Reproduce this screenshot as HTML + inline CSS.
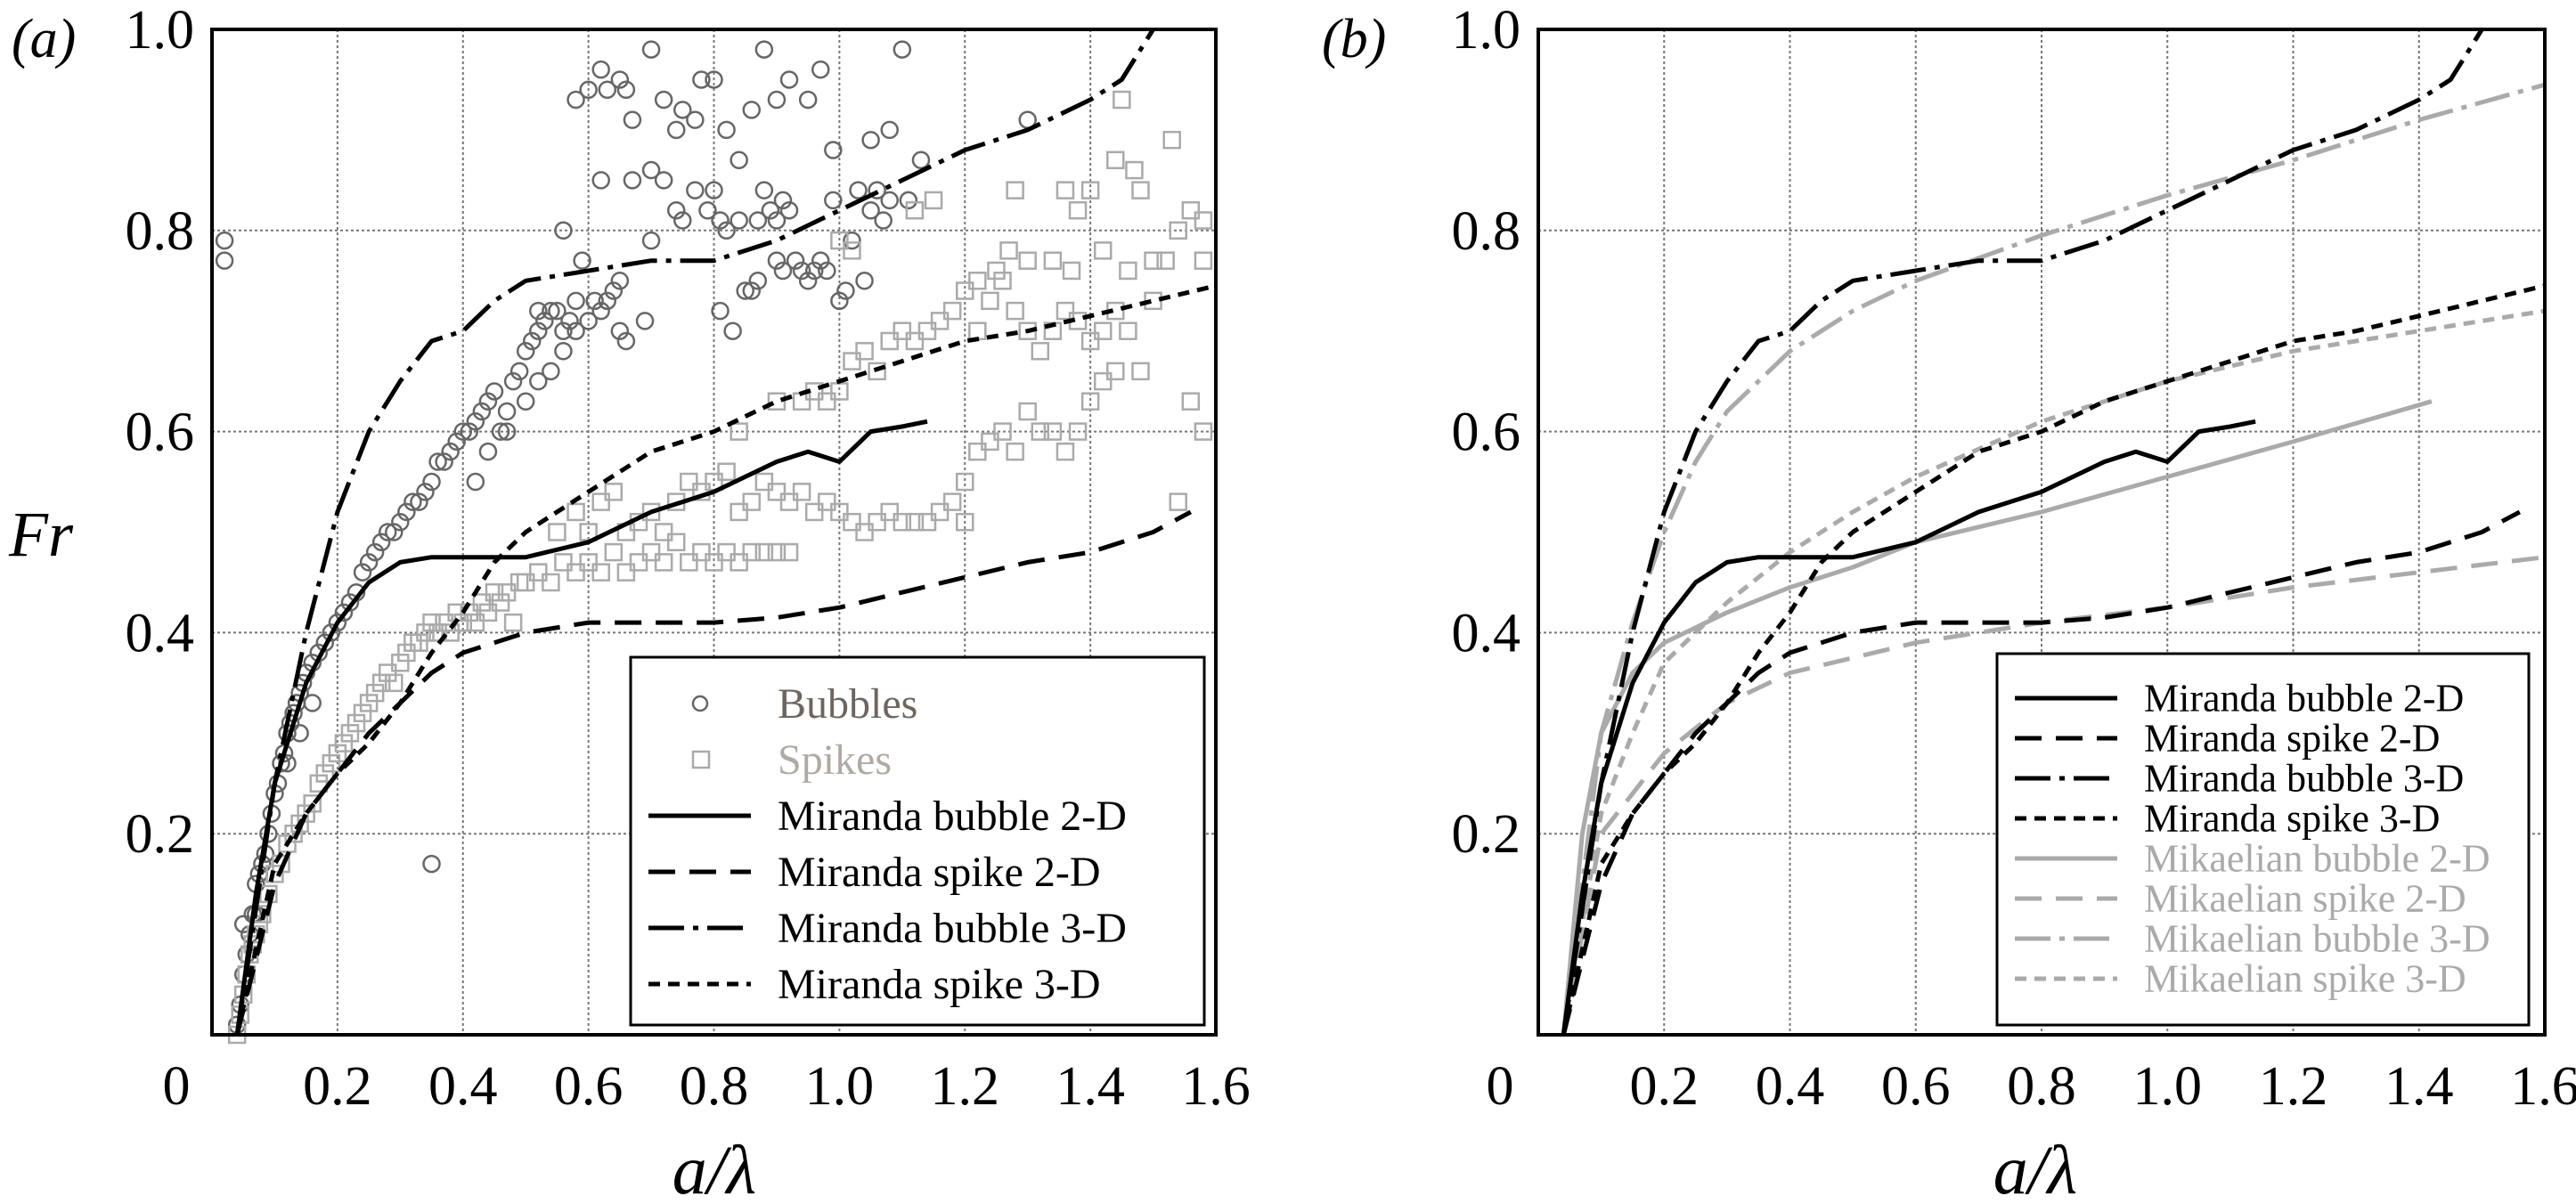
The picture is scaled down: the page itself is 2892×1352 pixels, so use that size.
<!DOCTYPE html>
<html><head><meta charset="utf-8"><style>
html,body{margin:0;padding:0;background:#fff;overflow:hidden;}
svg{display:block;}
svg text{font-family:"Liberation Serif",serif;}
</style></head><body>
<svg id="chart" width="2892" height="1352" viewBox="0 0 2892 1352" xmlns="http://www.w3.org/2000/svg">
<g id="pa"></g>
<g id="pb"></g>
</svg>
<script>
const xTicks=[0.2,0.4,0.6,0.8,1.0,1.2,1.4,1.6];
const xTickLabels=["0.2","0.4","0.6","0.8","1.0","1.2","1.4","1.6"];
const yTicks=[0.2,0.4,0.6,0.8,1.0];
const yTickLabels=["0.2","0.4","0.6","0.8","1.0"];
const mirBubble2D=[[0.04,0],[0.07,0.14],[0.1,0.25],[0.15,0.35],[0.2,0.41],[0.25,0.45],[0.3,0.47],[0.35,0.475],[0.4,0.475],[0.5,0.475],[0.6,0.49],[0.7,0.52],[0.8,0.54],[0.9,0.57],[0.95,0.58],[1.0,0.57],[1.05,0.6],[1.1,0.605],[1.14,0.61]];
const mirSpike2D=[[0.04,0],[0.1,0.15],[0.15,0.22],[0.2,0.26],[0.25,0.3],[0.3,0.33],[0.35,0.36],[0.4,0.38],[0.5,0.4],[0.6,0.41],[0.7,0.41],[0.8,0.41],[0.9,0.415],[1.0,0.425],[1.1,0.44],[1.2,0.455],[1.3,0.47],[1.4,0.48],[1.5,0.5],[1.56,0.52]];
const mirBubble3D=[[0.04,0],[0.1,0.25],[0.15,0.4],[0.2,0.52],[0.25,0.6],[0.3,0.65],[0.35,0.69],[0.4,0.7],[0.45,0.73],[0.5,0.75],[0.6,0.76],[0.7,0.77],[0.8,0.77],[0.9,0.79],[1.0,0.82],[1.1,0.85],[1.2,0.88],[1.3,0.9],[1.4,0.93],[1.45,0.95],[1.5,1.0]];
const mirSpike3D=[[0.04,0],[0.1,0.17],[0.15,0.22],[0.2,0.26],[0.25,0.29],[0.3,0.33],[0.35,0.38],[0.4,0.42],[0.45,0.47],[0.5,0.5],[0.6,0.54],[0.7,0.58],[0.8,0.6],[0.9,0.63],[1.0,0.65],[1.1,0.67],[1.2,0.69],[1.3,0.7],[1.4,0.715],[1.5,0.73],[1.6,0.745]];
const mikBubble2D=[[0.04,0],[0.07,0.2],[0.1,0.3],[0.15,0.36],[0.2,0.39],[0.3,0.42],[0.4,0.445],[0.5,0.465],[0.6,0.49],[0.8,0.52],[1.0,0.555],[1.2,0.59],[1.42,0.63]];
const mikSpike2D=[[0.04,0],[0.1,0.2],[0.2,0.28],[0.3,0.33],[0.4,0.36],[0.6,0.39],[0.8,0.41],[1.0,0.425],[1.2,0.445],[1.4,0.46],[1.6,0.475]];
const mikBubble3D=[[0.04,0],[0.1,0.3],[0.15,0.41],[0.2,0.5],[0.25,0.57],[0.3,0.62],[0.4,0.68],[0.5,0.72],[0.6,0.75],[0.8,0.795],[1.0,0.835],[1.2,0.87],[1.4,0.91],[1.6,0.945]];
const mikSpike3D=[[0.04,0],[0.1,0.22],[0.15,0.3],[0.2,0.37],[0.3,0.43],[0.4,0.48],[0.5,0.52],[0.6,0.555],[0.8,0.61],[1.0,0.65],[1.2,0.68],[1.4,0.7],[1.6,0.72]];
const bubbles=[[0.04,0.01],[0.045,0.03],[0.05,0.06],[0.055,0.08],[0.06,0.1],[0.065,0.12],[0.07,0.15],[0.075,0.16],[0.08,0.17],[0.085,0.18],[0.09,0.2],[0.095,0.22],[0.1,0.24],[0.105,0.25],[0.11,0.27],[0.115,0.28],[0.12,0.3],[0.125,0.31],[0.13,0.32],[0.135,0.33],[0.14,0.34],[0.145,0.35],[0.15,0.36],[0.16,0.37],[0.17,0.38],[0.18,0.39],[0.19,0.4],[0.2,0.41],[0.21,0.42],[0.22,0.43],[0.23,0.44],[0.24,0.46],[0.25,0.47],[0.26,0.48],[0.27,0.49],[0.28,0.5],[0.29,0.5],[0.3,0.51],[0.31,0.52],[0.32,0.53],[0.33,0.53],[0.34,0.54],[0.35,0.55],[0.36,0.57],[0.37,0.57],[0.38,0.58],[0.39,0.59],[0.4,0.6],[0.41,0.6],[0.42,0.61],[0.43,0.62],[0.44,0.63],[0.45,0.64],[0.46,0.6],[0.47,0.62],[0.48,0.65],[0.49,0.66],[0.5,0.68],[0.51,0.69],[0.52,0.7],[0.53,0.71],[0.54,0.72],[0.55,0.72],[0.56,0.7],[0.57,0.71],[0.58,0.73],[0.6,0.71],[0.02,0.79],[0.02,0.77],[0.35,0.17],[0.07,0.12],[0.05,0.11],[0.12,0.27],[0.14,0.3],[0.16,0.33],[0.58,0.93],[0.6,0.94],[0.62,0.96],[0.63,0.94],[0.65,0.95],[0.66,0.94],[0.67,0.91],[0.7,0.98],[0.72,0.93],[0.74,0.9],[0.75,0.92],[0.77,0.91],[0.78,0.95],[0.8,0.95],[0.82,0.9],[0.84,0.87],[0.86,0.92],[0.88,0.98],[0.9,0.93],[0.92,0.95],[0.95,0.93],[0.97,0.96],[0.99,0.88],[1.05,0.89],[1.08,0.9],[1.1,0.98],[1.13,0.87],[1.3,0.91],[0.62,0.85],[0.67,0.85],[0.7,0.86],[0.72,0.85],[0.74,0.82],[0.75,0.81],[0.77,0.84],[0.79,0.82],[0.8,0.84],[0.81,0.81],[0.82,0.8],[0.84,0.81],[0.85,0.74],[0.87,0.81],[0.88,0.84],[0.89,0.82],[0.9,0.81],[0.91,0.83],[0.92,0.82],[0.93,0.77],[0.95,0.75],[0.96,0.76],[0.98,0.76],[0.99,0.83],[1.0,0.73],[1.01,0.74],[1.02,0.79],[1.03,0.84],[1.05,0.82],[1.06,0.84],[1.08,0.83],[1.11,0.83],[1.04,0.75],[0.56,0.8],[0.59,0.77],[0.62,0.72],[0.64,0.74],[0.65,0.7],[0.66,0.69],[0.69,0.71],[0.7,0.79],[0.81,0.72],[0.83,0.7],[0.86,0.74],[0.87,0.75],[0.9,0.77],[0.91,0.76],[0.97,0.77],[0.94,0.76],[1.07,0.81],[0.61,0.73],[0.63,0.73],[0.65,0.75],[0.52,0.72],[0.54,0.66],[0.56,0.68],[0.58,0.7],[0.5,0.63],[0.52,0.65],[0.47,0.6],[0.44,0.58],[0.42,0.55]];
const spikes=[[0.04,0.0],[0.045,0.02],[0.05,0.04],[0.055,0.06],[0.06,0.08],[0.065,0.09],[0.07,0.1],[0.075,0.11],[0.08,0.12],[0.09,0.14],[0.1,0.16],[0.11,0.17],[0.12,0.19],[0.13,0.2],[0.14,0.21],[0.15,0.22],[0.16,0.23],[0.17,0.25],[0.18,0.26],[0.19,0.27],[0.2,0.28],[0.21,0.29],[0.22,0.3],[0.23,0.31],[0.24,0.32],[0.25,0.33],[0.26,0.34],[0.27,0.35],[0.28,0.36],[0.29,0.35],[0.3,0.37],[0.31,0.38],[0.32,0.39],[0.33,0.39],[0.34,0.4],[0.35,0.41],[0.36,0.4],[0.37,0.41],[0.38,0.4],[0.39,0.42],[0.4,0.41],[0.41,0.42],[0.42,0.41],[0.43,0.43],[0.44,0.42],[0.45,0.44],[0.46,0.43],[0.47,0.44],[0.48,0.41],[0.49,0.45],[0.5,0.45],[0.52,0.46],[0.54,0.45],[0.56,0.47],[0.58,0.46],[0.6,0.47],[0.62,0.46],[0.64,0.48],[0.66,0.46],[0.68,0.47],[0.7,0.48],[0.72,0.47],[0.74,0.49],[0.76,0.47],[0.78,0.48],[0.8,0.47],[0.82,0.48],[0.84,0.47],[0.86,0.48],[0.88,0.48],[0.9,0.48],[0.92,0.48],[0.62,0.53],[0.64,0.54],[0.66,0.5],[0.68,0.51],[0.7,0.52],[0.72,0.5],[0.74,0.53],[0.76,0.55],[0.78,0.54],[0.8,0.55],[0.82,0.56],[0.84,0.52],[0.86,0.53],[0.88,0.55],[0.9,0.54],[0.92,0.53],[0.94,0.54],[0.96,0.52],[0.98,0.53],[1.0,0.52],[1.02,0.51],[1.04,0.5],[1.06,0.51],[1.08,0.52],[1.1,0.51],[1.12,0.51],[1.14,0.51],[1.16,0.52],[1.18,0.53],[1.2,0.51],[0.84,0.6],[0.9,0.63],[0.94,0.63],[0.96,0.64],[0.98,0.63],[1.0,0.64],[1.02,0.67],[1.04,0.68],[1.06,0.66],[1.08,0.69],[1.1,0.7],[1.12,0.69],[1.14,0.7],[1.16,0.71],[1.18,0.72],[1.2,0.74],[1.22,0.7],[1.24,0.73],[1.26,0.75],[1.28,0.72],[1.3,0.7],[1.32,0.68],[1.34,0.7],[1.36,0.72],[1.38,0.71],[1.4,0.69],[1.42,0.7],[1.44,0.72],[1.46,0.7],[1.48,0.66],[1.5,0.73],[1.52,0.77],[1.54,0.8],[1.56,0.82],[1.58,0.77],[1.2,0.55],[1.22,0.58],[1.24,0.59],[1.26,0.6],[1.28,0.58],[1.3,0.62],[1.32,0.6],[1.34,0.6],[1.36,0.58],[1.38,0.6],[1.4,0.63],[1.42,0.65],[1.44,0.66],[1.56,0.63],[1.58,0.6],[1.54,0.53],[1.25,0.76],[1.27,0.78],[1.3,0.77],[1.34,0.77],[1.37,0.76],[1.42,0.78],[1.46,0.76],[1.5,0.77],[1.22,0.75],[1.28,0.84],[1.36,0.84],[1.4,0.84],[1.38,0.82],[1.44,0.87],[1.47,0.86],[1.48,0.84],[1.53,0.89],[1.45,0.93],[1.58,0.81],[1.12,0.82],[1.15,0.83],[1.0,0.79],[1.02,0.78],[0.55,0.5],[0.58,0.52],[0.6,0.5]];

const NS="http://www.w3.org/2000/svg";
function mk(tag,attrs,parent){const e=document.createElementNS(NS,tag);for(const k in attrs)e.setAttribute(k,attrs[k]);parent.appendChild(e);return e;}
const TOP=33,BOT=1162;
const STY={
 solid:{dash:"none"},dash:{dash:"30 16"},dashdot:{dash:"40 10 6 10"},short:{dash:"13 9"}
};
function panel(g,L,R,label,ylab,lblX,zeroX){
  const sx=v=>L+(v/1.6)*(R-L), sy=v=>BOT-v*(BOT-TOP);
  for(const t of xTicks.slice(0,-1)){const l=mk('line',{x1:sx(t),x2:sx(t),y1:TOP,y2:BOT,stroke:'#777','stroke-width':2,'stroke-dasharray':'3 3'},g);
  }
  for(const t of yTicks.slice(0,-1)){const l=mk('line',{x1:L,x2:R,y1:sy(t),y2:sy(t),stroke:'#777','stroke-width':2,'stroke-dasharray':'3 3'},g);
  }
  xTicks.forEach((t,i)=>{const e=mk('text',{x:sx(t),y:1240,'font-size':62,'text-anchor':'middle'},g);e.textContent=xTickLabels[i];
  });
  yTicks.forEach((t,i)=>{const e=mk('text',{x:L-20,y:sy(t)+21,'font-size':62,'text-anchor':'end'},g);e.textContent=yTickLabels[i];
  });
  const z=mk('text',{x:zeroX,y:1240,'font-size':62,'text-anchor':'middle'},g);z.textContent='0';
  
  const xl=mk('text',{x:lblX,y:1340,'font-size':78,'font-style':'italic','text-anchor':'middle'},g);xl.textContent='a/λ';
  
  const pl=mk('text',{x:L-225+(label==='(b)'?-18:0),y:64,'font-size':62,'font-style':'italic'},g);pl.textContent=label;
  
  if(ylab){const yl=mk('text',{x:46,y:624,'font-size':72,'font-style':'italic','text-anchor':'middle'},g);yl.textContent='Fr';
  }
  return {sx,sy};
}
function line(g,ax,data,style,color,name){
  const d=data.map((p,i)=>(i?'L':'M')+ax.sx(p[0]).toFixed(1)+' '+ax.sy(p[1]).toFixed(1)).join(' ');
  const p=mk('path',{d,fill:'none',stroke:color,'stroke-width':5,'stroke-dasharray':STY[style].dash,'stroke-linejoin':'round'},g);
  
}
function frame(g,L,R){const r=mk('rect',{x:L,y:TOP,width:R-L,height:BOT-TOP,fill:'none',stroke:'#000','stroke-width':4},g);
}
function legend(g,x,y,w,h,entries,rowH,fs,y0){
  const r=mk('rect',{x,y,width:w,height:h,fill:'#fff',stroke:'#000','stroke-width':3},g);
  
  entries.forEach((en,i)=>{const cy=y+y0+i*rowH;
    const eg=mk('g',{},g);
    if(en.type==='circle')mk('circle',{cx:x+78,cy:cy,r:8,fill:'none',stroke:en.color,'stroke-width':2.5},eg);
    else if(en.type==='square')mk('rect',{x:x+70,y:cy-9,width:18,height:18,fill:'none',stroke:en.color,'stroke-width':2.5},eg);
    else mk('line',{x1:x+20,x2:x+135,y1:cy,y2:cy,stroke:en.color,'stroke-width':5,'stroke-dasharray':STY[en.type].dash},eg);
    const t=mk('text',{x:x+165,y:cy+fs*0.33,'font-size':fs,fill:en.tc||en.color},eg);t.textContent=en.label;});
}
const ga=document.getElementById('pa');
const A=panel(ga,238,1365,'(a)',true,802,198);
bubbles.forEach(p=>{const c=mk('circle',{cx:A.sx(p[0]),cy:A.sy(p[1]),r:9,fill:'none',stroke:'#666','stroke-width':2.5},ga);
});
spikes.forEach(p=>{const c=mk('rect',{x:A.sx(p[0])-9,y:A.sy(p[1])-9,width:18,height:18,fill:'none',stroke:'#aaa','stroke-width':2.5},ga);
});
line(ga,A,mirBubble2D,'solid','#000','miranda-bubble-2d');
line(ga,A,mirSpike2D,'dash','#000','miranda-spike-2d');
line(ga,A,mirBubble3D,'dashdot','#000','miranda-bubble-3d');
line(ga,A,mirSpike3D,'short','#000','miranda-spike-3d');
frame(ga,238,1365);
legend(ga,708,738,644,413,[
 {type:'circle',color:'#666',tc:'#6d6660',label:'Bubbles'},
 {type:'square',color:'#aaa',tc:'#b0aaa4',label:'Spikes'},
 {type:'solid',color:'#000',label:'Miranda bubble 2-D'},
 {type:'dash',color:'#000',label:'Miranda spike 2-D'},
 {type:'dashdot',color:'#000',label:'Miranda bubble 3-D'},
 {type:'short',color:'#000',label:'Miranda spike 3-D'}],63,48,52);
const gb=document.getElementById('pb');
const B=panel(gb,1727,2857,'(b)',false,2285,1684);
line(gb,B,mikBubble2D,'solid','#aaa','mikaelian-bubble-2d');
line(gb,B,mikSpike2D,'dash','#aaa','mikaelian-spike-2d');
line(gb,B,mikBubble3D,'dashdot','#aaa','mikaelian-bubble-3d');
line(gb,B,mikSpike3D,'short','#aaa','mikaelian-spike-3d');
line(gb,B,mirBubble2D,'solid','#000','miranda-bubble-2d');
line(gb,B,mirSpike2D,'dash','#000','miranda-spike-2d');
line(gb,B,mirBubble3D,'dashdot','#000','miranda-bubble-3d');
line(gb,B,mirSpike3D,'short','#000','miranda-spike-3d');
frame(gb,1727,2857);
legend(gb,2242,734,597,417,[
 {type:'solid',color:'#000',label:'Miranda bubble 2-D'},
 {type:'dash',color:'#000',label:'Miranda spike 2-D'},
 {type:'dashdot',color:'#000',label:'Miranda bubble 3-D'},
 {type:'short',color:'#000',label:'Miranda spike 3-D'},
 {type:'solid',color:'#aaa',label:'Mikaelian bubble 2-D'},
 {type:'dash',color:'#aaa',label:'Mikaelian spike 2-D'},
 {type:'dashdot',color:'#aaa',label:'Mikaelian bubble 3-D'},
 {type:'short',color:'#aaa',label:'Mikaelian spike 3-D'}],45,44,50);
</script>
</body></html>
